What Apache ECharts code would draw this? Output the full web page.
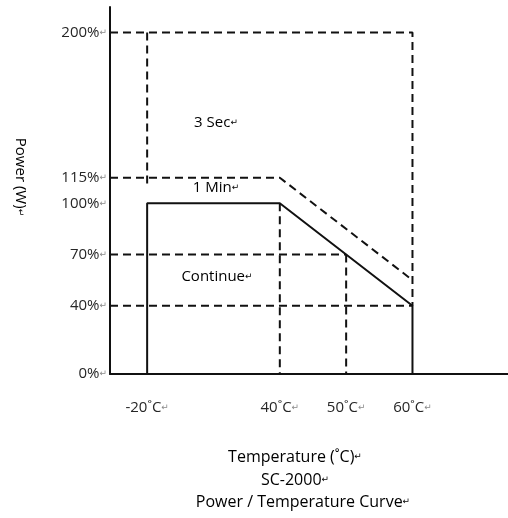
<!DOCTYPE html>
<html><head><meta charset="utf-8">
<script src="https://cdn.jsdelivr.net/npm/echarts@6/dist/echarts.min.js"></script>
<style>html,body{margin:0;padding:0;background:#fff}#c{width:508px;height:518px}</style>
</head><body><div id="c"></div>
<script>
// ---- data ----
const tempTicks = [-20, 40, 50, 60];
const powerTicks = [0, 40, 70, 100, 115, 200];
const X_MIN = -25.6, X_MAX = 74.4;
const continuousCurve = [[-20, 0], [-20, 100], [40, 100], [60, 40], [60, 0]];
const peak3sLine = [[X_MIN, 200], [60, 200], [60, 40]];
const peak3sLeft = [[-20, 200], [-20, 110]];
const peak1mLine = [[X_MIN, 115], [40, 115], [60, 55]];
const guide70 = [[X_MIN, 70], [50, 70]];
const guide40 = [[X_MIN, 40], [60, 40]];
const drop40 = [[40, 100], [40, 0]];
const drop50 = [[50, 70], [50, 0]];

const FONT = '"Open Sans", "Noto Sans", sans-serif';
const PM = { fontSize: 9, color: '#8a8a8a', fontFamily: 'DejaVu Sans' };
const INK = '#111';
const TXT = '#262626';

function seg(data, dashed) {
  return {
    type: 'line', data: data, symbol: 'none', silent: true, animation: false,
    lineStyle: { color: INK, width: 2, type: dashed ? [8, 5] : 'solid' }
  };
}
function txt(x, y, s, size, extra) {
  return Object.assign({
    type: 'text', x: x, y: y,
    style: {
      text: '{t|' + s + '}{p|↵}',
      align: 'center', verticalAlign: 'middle',
      rich: { t: { fontSize: size, fontFamily: FONT, color: TXT }, p: PM }
    }
  }, extra || {});
}

const chart = echarts.init(document.getElementById('c'));
chart.setOption({
  animation: false,
  grid: { left: 110, right: 0, top: 7, bottom: 144, containLabel: false },
  xAxis: {
    type: 'value', min: X_MIN, max: X_MAX,
    breaks: [{ start: -15, end: 25, gap: 0 }],
    breakArea: { show: false },
    axisLine: { show: true, onZero: false, lineStyle: { color: INK, width: 2 } },
    axisTick: { show: false },
    splitLine: { show: false },
    axisLabel: {
      customValues: tempTicks, margin: 26,
      formatter: v => '{t|' + v + '˚C}{p|↵}',
      rich: { t: { fontSize: 15, fontFamily: FONT, color: TXT }, p: PM }
    }
  },
  yAxis: {
    type: 'value', min: 0, max: 215,
    axisLine: { show: true, onZero: false, lineStyle: { color: INK, width: 2 } },
    axisTick: { show: false },
    splitLine: { show: false },
    axisLabel: {
      customValues: powerTicks, margin: 3,
      formatter: v => '{t|' + v + '%}{p|↵}',
      rich: { t: { fontSize: 15, fontFamily: FONT, color: TXT }, p: PM }
    }
  },
  series: [
    seg(peak3sLine, true), seg(peak3sLeft, true), seg(peak1mLine, true),
    seg(guide70, true), seg(guide40, true), seg(drop40, true), seg(drop50, true),
    seg(continuousCurve, false)
  ],
  graphic: [
    txt(216, 123, '3 Sec', 15),
    txt(216, 188, '1 Min', 15),
    txt(217, 277, 'Continue', 15),
    txt(20, 177, 'Power (W)', 15, { rotation: -Math.PI / 2 }),
    txt(295, 457, 'Temperature (˚C)', 16),
    txt(295, 480, 'SC-2000', 16),
    txt(303, 502, 'Power / Temperature Curve', 16)
  ]
});
</script></body></html>
